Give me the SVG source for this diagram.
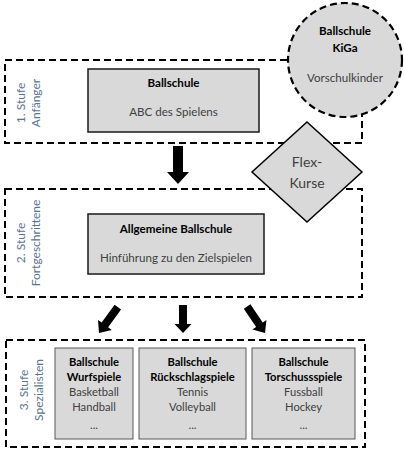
<svg xmlns="http://www.w3.org/2000/svg" width="404" height="450" viewBox="0 0 404 450">
<style>
.stage{fill:#ffffff;stroke:#000;stroke-width:2;stroke-dasharray:7 4}
.box{fill:#d9d9d9;stroke:#1a1a1a;stroke-width:1.5}
.sbox{fill:#d9d9d9;stroke:#595959;stroke-width:1}
.shape{fill:#d9d9d9;stroke:#000;stroke-width:1.5}
.circ{fill:#d9d9d9;stroke:#000;stroke-width:2.2;stroke-dasharray:7 4}
text{font-family:Lato,"Liberation Sans",sans-serif;font-size:11.6px;text-anchor:middle}
.s3{font-size:11.2px}
.b{font-weight:bold;fill:#000}
.r{fill:#404040}
.lbl{fill:#5a7394;font-size:12px}
.flex{font-size:14px;fill:#404040}
.arr{fill:#000}
</style>
<g id="stage1">
<rect class="stage" x="5" y="60" width="357" height="83"/>
<text class="lbl" transform="translate(25,103) rotate(-90)">1. Stufe</text>
<text class="lbl" transform="translate(40,103) rotate(-90)">Anfänger</text>
</g>
<g id="stage2">
<rect class="stage" x="5" y="189" width="357" height="108"/>
<text class="lbl" transform="translate(25,243) rotate(-90)">2. Stufe</text>
<text class="lbl" transform="translate(40,243) rotate(-90)">Fortgeschrittene</text>
</g>
<g id="stage3">
<rect class="stage" x="6" y="340" width="359" height="107"/>
<text class="lbl" transform="translate(28,390) rotate(-90)">3. Stufe</text>
<text class="lbl" transform="translate(43,390) rotate(-90)">Spezialisten</text>
</g>
<g id="ballschule">
<rect class="box" x="88" y="69" width="171" height="63"/>
<text class="b" x="173.5" y="87">Ballschule</text>
<text class="r" x="173.5" y="116">ABC des Spielens</text>
</g>
<g id="kiga">
<circle class="circ" cx="345" cy="60" r="57"/>
<text class="b" x="345" y="35">Ballschule</text>
<text class="b" x="345" y="52">KiGa</text>
<text class="r" x="345" y="82">Vorschulkinder</text>
</g>
<g id="flex">
<polygon class="shape" points="307,122 362,172 307,222 252,172"/>
<text class="flex" x="307" y="167">Flex-</text>
<text class="flex" x="307" y="188">Kurse</text>
</g>
<g id="allgemeine">
<rect class="box" x="88" y="214" width="176" height="60"/>
<text class="b" x="176" y="233">Allgemeine Ballschule</text>
<text class="r" x="176" y="262">Hinführung zu den Zielspielen</text>
</g>
<g id="wurfspiele">
<rect class="sbox" x="55" y="348" width="78" height="91"/>
<text class="b s3" x="94" y="366">Ballschule</text>
<text class="b s3" x="94" y="381">Wurfspiele</text>
<text class="r s3" x="94" y="396">Basketball</text>
<text class="r s3" x="94" y="411">Handball</text>
<text class="r s3" x="94" y="429">...</text>
</g>
<g id="rueckschlag">
<rect class="sbox" x="139" y="348" width="107" height="91"/>
<text class="b s3" x="192.5" y="366">Ballschule</text>
<text class="b s3" x="192.5" y="381">Rückschlagspiele</text>
<text class="r s3" x="192.5" y="396">Tennis</text>
<text class="r s3" x="192.5" y="411">Volleyball</text>
<text class="r s3" x="192.5" y="429">...</text>
</g>
<g id="torschuss">
<rect class="sbox" x="252" y="348" width="103" height="91"/>
<text class="b s3" x="303.5" y="366">Ballschule</text>
<text class="b s3" x="303.5" y="381">Torschussspiele</text>
<text class="r s3" x="303.5" y="396">Fussball</text>
<text class="r s3" x="303.5" y="411">Hockey</text>
<text class="r s3" x="303.5" y="429">...</text>
</g>
<g id="connectors">
<polygon class="arr" points="173,146 183,146 183,172 189,172 178,184 167,172 173,172"/>
<polygon class="arr" transform="translate(99,333) rotate(36)" points="-4,-32 4,-32 4,-10 8.5,-10 0,0 -8.5,-10 -4,-10"/>
<polygon class="arr" transform="translate(183,333)" points="-4,-28 4,-28 4,-9 8.5,-9 0,0 -8.5,-9 -4,-9"/>
<polygon class="arr" transform="translate(265,333) rotate(-34)" points="-4,-32 4,-32 4,-10 8.5,-10 0,0 -8.5,-10 -4,-10"/>
</g>
</svg>
